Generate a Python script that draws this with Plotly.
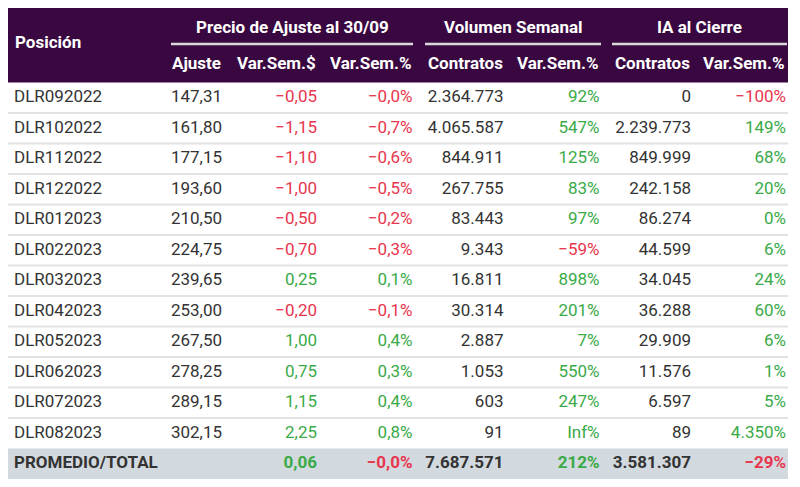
import math
import plotly.graph_objects as go

# ---------------- data ----------------
posiciones = ["DLR092022", "DLR102022", "DLR112022", "DLR122022", "DLR012023", "DLR022023",
              "DLR032023", "DLR042023", "DLR052023", "DLR062023", "DLR072023", "DLR082023"]
ajuste = [147.31, 161.80, 177.15, 193.60, 210.50, 224.75, 239.65, 253.00, 267.50, 278.25, 289.15, 302.15]
var_sem_ars = [-0.05, -1.15, -1.10, -1.00, -0.50, -0.70, 0.25, -0.20, 1.00, 0.75, 1.15, 2.25]
var_sem_pct = [-0.03, -0.7, -0.6, -0.5, -0.2, -0.3, 0.1, -0.1, 0.4, 0.3, 0.4, 0.8]
vol_contratos = [2364773, 4065587, 844911, 267755, 83443, 9343, 16811, 30314, 2887, 1053, 603, 91]
vol_var_pct = [92, 547, 125, 83, 97, -59, 898, 201, 7, 550, 247, math.inf]
ia_contratos = [0, 2239773, 849999, 242158, 86274, 44599, 34045, 36288, 29909, 11576, 6597, 89]
ia_var_pct = [-100, 149, 68, 20, 0.2, 6, 24, 60, 6, 1, 5, 4350]

total_label = "PROMEDIO/TOTAL"
total_var_ars = 0.06
total_var_pct = -0.01
total_vol = 7687571
total_vol_pct = 212
total_ia = 3581307
total_ia_pct = -29

group_titles = ["Precio de Ajuste al 30/09", "Volumen Semanal", "IA al Cierre"]
col_titles = ["Posición", "Ajuste", "Var.Sem.$", "Var.Sem.%", "Contratos", "Var.Sem.%", "Contratos", "Var.Sem.%"]

# ---------------- styling / layout ----------------
W, H = 800, 487
BODY_MARGIN = 8  # default page margin around the figure
FONT = "Roboto"
FS = 17
DARK = "#333333"
GREEN = "#3aaa48"
RED = "#e8364e"
HEADER_BG = "#3a0841"
SEP = "#e2e2e2"
TOTAL_BG = "#d3dadf"

left, right = 7, 788
head_top, head_bot = 8, 82.5
row_h = 30.5
col_right = [None, 222, 317, 412.5, 503.5, 599.5, 691, 786]
pos_x = 14
TXT_PAD = 0

groups_x = [(171, 413), (425, 601), (612, 787)]


def fmt_num(v, dec=0):
    s = f"{abs(v):,.{dec}f}"
    s = s.replace(",", "X").replace(".", ",").replace("X", ".")
    return ("\u2212" if v < 0 else "") + s


def fmt_pct(v, dec=0):
    if math.isinf(v):
        return "Inf%"
    return fmt_num(v, dec) + "%"


def col(v):
    return RED if v < 0 else GREEN


n = len(posiciones)
row_y = [head_bot + row_h * (i + 0.5) for i in range(n)]
tot_y = head_bot + row_h * (n + 0.5)

fig = go.Figure()


def add_col(xs, ys, texts, colors, pos="middle left", bold=False):
    fig.add_trace(go.Scatter(
        x=xs, y=ys, text=texts, mode="text", textposition=pos,
        textfont=dict(family=FONT, size=FS, color=colors, weight="bold" if bold else "normal"),
        hoverinfo="skip", showlegend=False, cliponaxis=False))


# body columns
add_col([pos_x] * n, row_y, posiciones, [DARK] * n, pos="middle right")
add_col([col_right[1] + TXT_PAD] * n, row_y, [fmt_num(v, 2) for v in ajuste], [DARK] * n)
add_col([col_right[2] + TXT_PAD] * n, row_y, [fmt_num(v, 2) for v in var_sem_ars], [col(v) for v in var_sem_ars])
add_col([col_right[3] + TXT_PAD] * n, row_y, [fmt_pct(v, 1) for v in var_sem_pct], [col(v) for v in var_sem_pct])
add_col([col_right[4] + TXT_PAD] * n, row_y, [fmt_num(v) for v in vol_contratos], [DARK] * n)
add_col([col_right[5] + TXT_PAD] * n, row_y, [fmt_pct(v) for v in vol_var_pct], [col(v) for v in vol_var_pct])
add_col([col_right[6] + TXT_PAD] * n, row_y, [fmt_num(v) for v in ia_contratos], [DARK] * n)
add_col([col_right[7] + TXT_PAD] * n, row_y, [fmt_pct(v) for v in ia_var_pct], [col(v) for v in ia_var_pct])

# total row
add_col([pos_x], [tot_y], [total_label], [DARK], pos="middle right", bold=True)
tot_vals = [(2, fmt_num(total_var_ars, 2), col(total_var_ars)),
            (3, fmt_pct(total_var_pct, 1), col(total_var_pct)),
            (4, fmt_num(total_vol), DARK),
            (5, fmt_pct(total_vol_pct), col(total_vol_pct)),
            (6, fmt_num(total_ia), DARK),
            (7, fmt_pct(total_ia_pct), col(total_ia_pct))]
add_col([col_right[c] + TXT_PAD for c, _, _ in tot_vals], [tot_y] * len(tot_vals),
        [t for _, t, _ in tot_vals], [c for _, _, c in tot_vals], bold=True)

shapes = []
shapes.append(dict(type="rect", x0=left, x1=right, y0=head_top, y1=head_bot,
                   fillcolor=HEADER_BG, line=dict(width=0), layer="below"))
for x0, x1 in groups_x:
    shapes.append(dict(type="line", x0=x0, x1=x1, y0=44, y1=44, line=dict(color="#d9d9d9", width=2.5)))
for i in range(1, n):
    yy = head_bot + row_h * i
    shapes.append(dict(type="line", x0=left, x1=right, y0=yy, y1=yy, line=dict(color=SEP, width=2), layer="below"))
shapes.append(dict(type="rect", x0=left, x1=right, y0=head_bot + row_h * n, y1=head_bot + row_h * (n + 1),
                   fillcolor=TOTAL_BG, line=dict(width=0), layer="below"))

annotations = []
hfont = dict(family=FONT, size=FS, color="white", weight="bold")
annotations.append(dict(x=pos_x, y=42, text=col_titles[0], xanchor="left", yanchor="middle",
                        showarrow=False, font=hfont, xref="x", yref="y", borderpad=0))
for c in range(1, 8):
    annotations.append(dict(x=col_right[c], y=63, text=col_titles[c], xanchor="right", yanchor="middle",
                            showarrow=False, font=hfont, xref="x", yref="y", borderpad=0))
for (x0, x1), t in zip(groups_x, group_titles):
    annotations.append(dict(x=(x0 + x1) / 2, y=26.5, text=t, xanchor="center", yanchor="middle",
                            showarrow=False, font=hfont, xref="x", yref="y", borderpad=0))

# figure sits inside the page margin, so the axes map directly to window pixels
fig.update_layout(
    width=W - 2 * BODY_MARGIN, height=H - 2 * BODY_MARGIN, margin=dict(l=0, r=0, t=0, b=0),
    paper_bgcolor="white", plot_bgcolor="white",
    xaxis=dict(range=[BODY_MARGIN, W - BODY_MARGIN], visible=False, fixedrange=True),
    yaxis=dict(range=[H - BODY_MARGIN, BODY_MARGIN], visible=False, fixedrange=True),
    shapes=shapes, annotations=annotations,
    font=dict(family=FONT, size=FS, color=DARK),
)

fig.write_html("out.html")
